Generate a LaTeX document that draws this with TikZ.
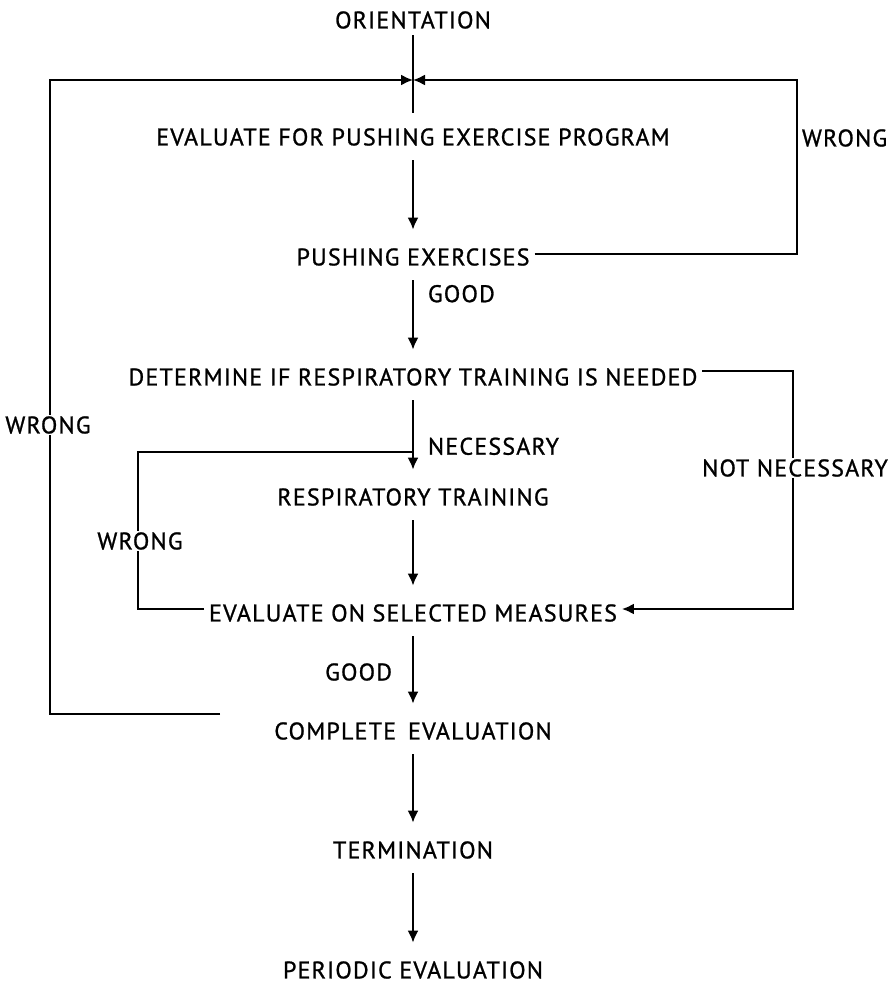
\documentclass[tikz,border=0pt]{standalone}
\usepackage{fontspec}
\setmainfont[LetterSpace=5,FakeBold=1]{PT Sans}
\usepackage{tikz}
\usetikzlibrary{arrows.meta}

\tikzset{
  stage/.style={font=\fontsize{12}{14}\selectfont,inner sep=2pt,text height=8.4pt,text depth=0pt},
  tag/.style={stage,fill=white,inner sep=1pt},
  flow/.style={-{Latex[length=6pt,width=5.5pt]},shorten <=5pt,shorten >=7pt},
  back/.style={-{Latex[length=6pt,width=5.5pt]}}
}

\begin{document}
\begin{tikzpicture}[x=0.5pt,y=-0.5pt,line width=1pt]
  \useasboundingbox (0,0) rectangle (895,985);
  \node[stage] (orient) at (413,20) {ORIENTATION};
  \node[stage] (evalpush) at (413,137) {EVALUATE FOR PUSHING EXERCISE PROGRAM};
  \node[stage] (push) at (413,257) {PUSHING EXERCISES};
  \node[stage] (need) at (413,377) {DETERMINE IF RESPIRATORY TRAINING IS NEEDED};
  \node[stage] (resp) at (413,497) {RESPIRATORY TRAINING};
  \node[stage] (evalsel) at (413,613) {EVALUATE ON SELECTED MEASURES};
  \node[stage] (complete) at (413,731) {COMPLETE\enspace EVALUATION};
  \node[stage] (term) at (413,850) {TERMINATION};
  \node[stage] (periodic) at (413,970) {PERIODIC EVALUATION};

  \coordinate (join) at (413,80);
  \coordinate (rtop) at (797,80);
  \coordinate (ltop) at (50,80);
  \coordinate (lfree) at (220,714);
  \coordinate (nright) at (793,500);
  \coordinate (wleft) at (138,530);
  \coordinate (wtop) at (413,452);

  \draw[shorten <=1pt,shorten >=5.5pt] (orient) -- (evalpush);
  \draw[back] ([yshift=1.5pt]push.east) -| (rtop) -- (join);
  \node[stage,right] (wrong1) at (797,138) {WRONG};
  \draw[back] (lfree) -| (ltop) -- (join);
  \node[tag] (wrong3) at (48,425) {WRONG};

  \draw[flow] (evalpush) -- (push);
  \draw[flow] (push) -- node[stage,right,pos=0.25,xshift=5pt] (good1) {GOOD} (need);
  \draw[flow] (need) -- node[stage,right,pos=0.6,xshift=5pt] (yes) {NECESSARY} (resp);
  \draw[back] ([yshift=3pt]need.east) -| (nright) |- ([yshift=2pt]evalsel.east);
  \node[tag] (no) at (795,468) {NOT NECESSARY};
  \draw[flow] (resp) -- (evalsel);
  \draw ([yshift=2pt]evalsel.west) -| (wleft) |- (wtop);
  \node[tag] (wrong2) at (140,541) {WRONG};
  \draw[flow] (evalsel) -- node[stage,left,xshift=-8pt] (good2) {GOOD} (complete);
  \draw[flow] (complete) -- (term);
  \draw[flow] (term) -- (periodic);
\end{tikzpicture}
\end{document}
